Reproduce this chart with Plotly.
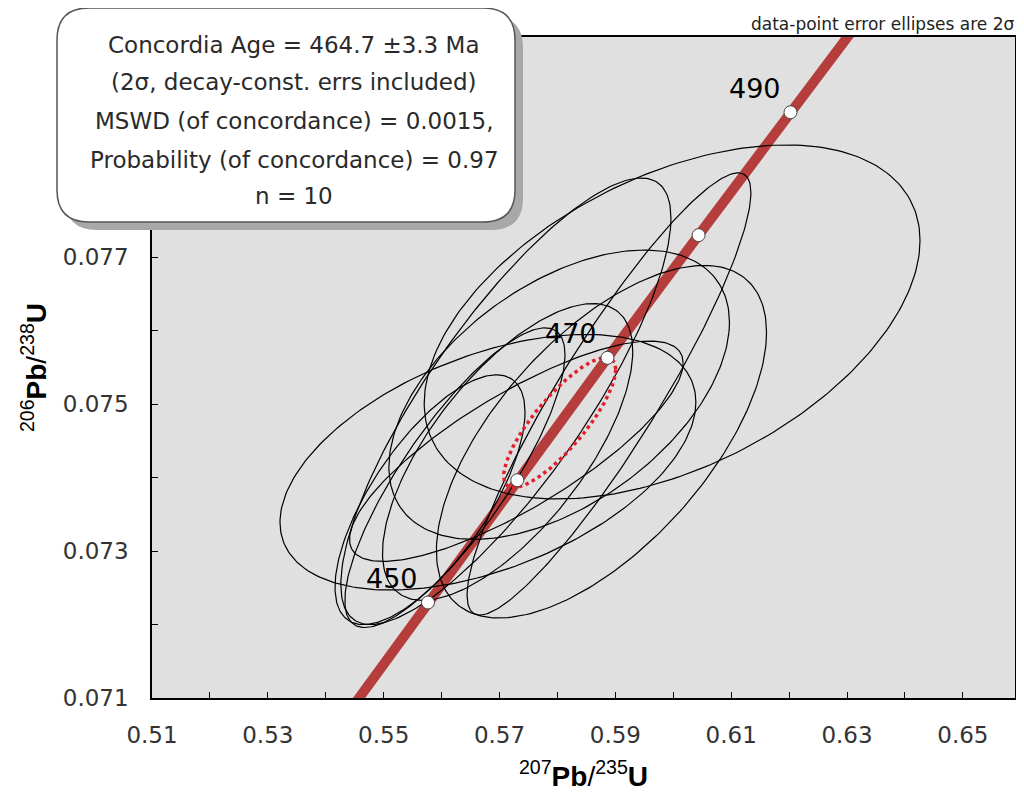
import numpy as np
import plotly.graph_objects as go

# Concordia curve: age (Ma), 207Pb/235U, 206Pb/238U
conc_age = [440, 450, 460, 470, 480, 490, 500]
conc_x = [0.54239, 0.55765, 0.57307, 0.58864, 0.60437, 0.62024, 0.63628]
conc_y = [0.070638, 0.072300, 0.073965, 0.075632, 0.077302, 0.078975, 0.080650]

# ages that get a tick circle / a label
mark_age = [450, 460, 470, 480, 490]
label_age = [450, 470, 490]

# data-point error ellipses (centre, 2-sigma half widths, error correlation)
ell_x = [0.5998, 0.5680, 0.5711, 0.5889, 0.5803, 0.5876, 0.5729, 0.5714, 0.5623, 0.5580]
ell_y = [0.07612, 0.07421, 0.07504, 0.07514, 0.07513, 0.07449, 0.07436, 0.07435, 0.07400, 0.07370]
ell_sx = [0.0428, 0.0359, 0.0285, 0.0245, 0.0294, 0.0285, 0.0288, 0.0216, 0.0190, 0.0164]
ell_sy = [0.00241, 0.00174, 0.00304, 0.00301, 0.00197, 0.00240, 0.00150, 0.00202, 0.00204, 0.00170]
ell_rho = [0.46, 0.47, 0.82, 0.91, 0.50, 0.62, 0.80, 0.68, 0.82, 0.70]

# concordia age ellipse
age_x, age_y, age_sx, age_sy, age_rho = 0.5804, 0.07475, 0.00967, 0.000885, 0.82

box_lines = [
    "Concordia Age = 464.7 \u00b13.3 Ma",
    "(2\u03c3, decay-const. errs included)",
    "MSWD (of concordance) = 0.0015,",
    "Probability (of concordance) = 0.97",
    "n = 10",
]
corner_note = "data-point error ellipses are 2\u03c3"


def ellipse(cx, cy, sx, sy, rho, n=241):
    t = np.linspace(0, 2 * np.pi, n)
    x = cx + sx * np.cos(t)
    y = cy + sy * (rho * np.cos(t) + np.sqrt(1 - rho ** 2) * np.sin(t))
    return x, y


# the page body adds an 8px margin, so the figure is drawn 8px smaller
W, H = 1016, 784
L, R, T, B = 144, 9, 29, 94
# plot area as seen on screen
SX0, SX1, SY0, SY1 = 152, 1015, 37, 698


def px(xs, ys):
    # screen pixel -> paper coordinates
    return (xs - SX0) / (SX1 - SX0), (SY1 - ys) / (SY1 - SY0)


def rounded_box(x0, y0, x1, y1, r):
    pts = [
        ("M", [(x0 + r, y0)]),
        ("L", [(x1 - r, y0)]),
        ("Q", [(x1, y0), (x1, y0 + r)]),
        ("L", [(x1, y1 - r)]),
        ("Q", [(x1, y1), (x1 - r, y1)]),
        ("L", [(x0 + r, y1)]),
        ("Q", [(x0, y1), (x0, y1 - r)]),
        ("L", [(x0, y0 + r)]),
        ("Q", [(x0, y0), (x0 + r, y0)]),
    ]
    s = ""
    for cmd, plist in pts:
        s += cmd + " " + " ".join("%.5f,%.5f" % px(a, b) for a, b in plist) + " "
    return s + "Z"


fig = go.Figure()

fig.add_trace(go.Scatter(
    x=conc_x, y=conc_y, mode="lines",
    line=dict(color="#b53d3b", width=10),
    hoverinfo="skip", showlegend=False,
))

for i in range(len(ell_x)):
    ex, ey = ellipse(ell_x[i], ell_y[i], ell_sx[i], ell_sy[i], ell_rho[i])
    fig.add_trace(go.Scatter(
        x=ex, y=ey, mode="lines",
        line=dict(color="black", width=1.2),
        hoverinfo="skip", showlegend=False,
    ))

ax_, ay_ = ellipse(age_x, age_y, age_sx, age_sy, age_rho)
fig.add_trace(go.Scatter(
    x=ax_, y=ay_, mode="lines",
    line=dict(color="#e3212b", width=3.5, dash="dot"),
    hoverinfo="skip", showlegend=False,
))

mx = [conc_x[conc_age.index(a)] for a in mark_age]
my = [conc_y[conc_age.index(a)] for a in mark_age]
fig.add_trace(go.Scatter(
    x=mx, y=my, mode="markers",
    marker=dict(size=13, color="white", line=dict(color="#444", width=1)),
    showlegend=False, cliponaxis=False,
))

annotations = []
for a in label_age:
    i = conc_age.index(a)
    annotations.append(dict(
        x=conc_x[i], y=conc_y[i], xref="x", yref="y", text=str(a),
        showarrow=False, xshift=-36, yshift=24,
        font=dict(family="DejaVu Sans", size=27, color="black"),
    ))

line_y = [45, 82, 121, 160, 196]
for txt, yy in zip(box_lines, line_y):
    xp, yp = px(294, yy)
    annotations.append(dict(
        x=xp, y=yp, xref="paper", yref="paper", text=txt, showarrow=False,
        xanchor="center", yanchor="middle",
        font=dict(family="DejaVu Sans", size=23, color="#2a2a2a"),
    ))

xp, yp = px(1016, 36)
annotations.append(dict(
    x=xp, y=yp, xref="paper", yref="paper", text=corner_note, showarrow=False,
    xanchor="right", yanchor="bottom",
    font=dict(family="DejaVu Sans", size=17, color="#222"),
))

shapes = [
    dict(type="path", xref="paper", yref="paper", layer="above",
         path=rounded_box(65, 16, 523, 230, 32),
         fillcolor="#a8a8a8", line=dict(width=0)),
    dict(type="path", xref="paper", yref="paper", layer="above",
         path=rounded_box(57, 8, 515, 222, 32),
         fillcolor="white", line=dict(color="#555", width=1.5)),
]

tick_font = dict(family="DejaVu Sans", size=23, color="#333")
title_font = dict(family="Liberation Sans", size=28, color="black")
fig.update_layout(
    width=W, height=H,
    margin=dict(l=L, r=R, t=T, b=B),
    paper_bgcolor="white", plot_bgcolor="#e0e0e0",
    annotations=annotations, shapes=shapes,
    xaxis=dict(
        range=[0.51, 0.659], tick0=0.51, dtick=0.02, tickformat=".2f",
        ticks="inside", ticklen=6, tickcolor="black",
        minor=dict(dtick=0.01, ticks="inside", ticklen=6, tickcolor="black"),
        showgrid=False, zeroline=False, automargin=False,
        showline=True, linecolor="black", linewidth=1.5, mirror=True,
        tickfont=tick_font, ticklabelstandoff=16,
        title=dict(text="<sup>207</sup><b>Pb</b>/<sup>235</sup><b>U</b>",
                   font=title_font, standoff=22),
    ),
    yaxis=dict(
        range=[0.071, 0.080], tick0=0.071, dtick=0.002, tickformat=".3f",
        ticks="inside", ticklen=6, tickcolor="black",
        minor=dict(dtick=0.001, ticks="inside", ticklen=6, tickcolor="black"),
        showgrid=False, zeroline=False, automargin=False,
        showline=True, linecolor="black", linewidth=1.5, mirror=True,
        tickfont=tick_font, ticklabelstandoff=17,
        title=dict(text="<sup>206</sup><b>Pb</b>/<sup>238</sup><b>U</b>",
                   font=title_font, standoff=8),
    ),
)

fig.write_html("out.html")
